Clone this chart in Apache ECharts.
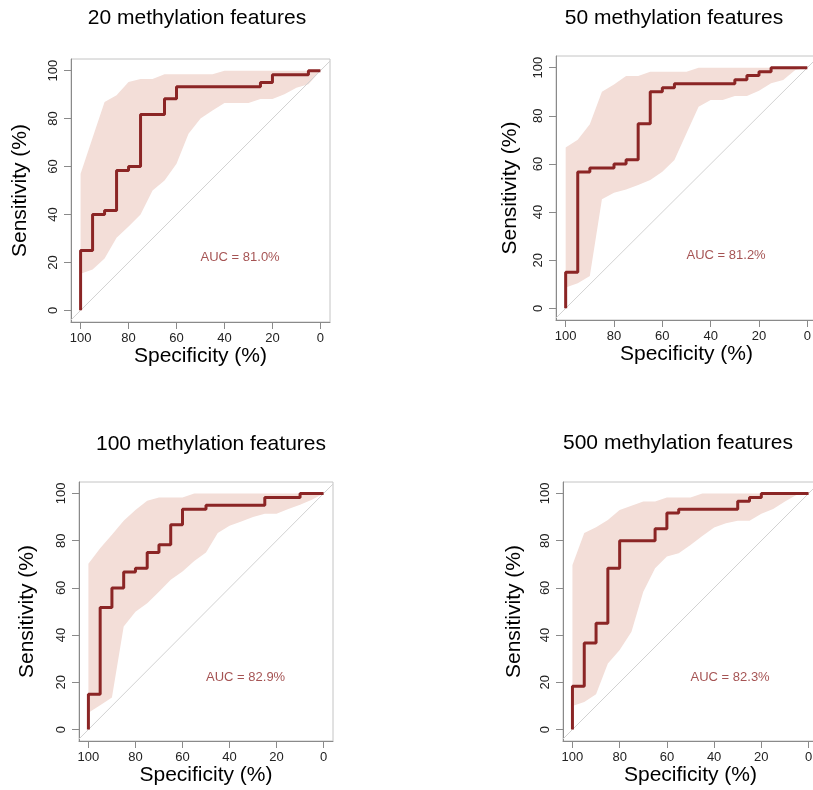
<!DOCTYPE html>
<html>
<head>
<meta charset="utf-8">
<script src="https://cdn.jsdelivr.net/npm/echarts@6/dist/echarts.min.js"></script>
<style>
html, body { margin: 0; padding: 0; background: #fff; }
#rocChart { width: 813px; height: 790px; }
</style>
</head>
<body>
<div id="rocChart"></div>
<script>
// specificity grid of the sensitivity confidence band
const ciSpec = [100, 95, 90, 85, 80, 75, 70, 65, 60, 55, 50, 45, 40, 35, 30, 25, 20, 15, 10, 5, 0];

// 20 features
const roc20Spec = [100, 100, 95, 90, 85, 80, 75, 65, 60, 25, 20, 5, 0];
const roc20Sens = [0, 25, 40, 41.7, 58.3, 60, 81.7, 88.3, 93.3, 95, 98.3, 100, 100];
const ci20High = [57, 72, 86.9, 89.7, 95.3, 96.5, 96.5, 98.5, 98.5, 98.5, 98.5, 98.5, 100, 100, 100, 100, 100, 100, 100, 100, 100];
const ci20Low = [15.3, 17, 21.6, 30.3, 35, 40, 50, 54.2, 61.2, 73.7, 80, 83.4, 86.5, 86.5, 86.5, 88.2, 88.2, 90.1, 92.9, 94.3, 100];

// 50 features
const roc50Spec = [100, 100, 95, 90, 80, 75, 70, 65, 60, 55, 30, 25, 20, 15, 0];
const roc50Sens = [0, 15, 56.7, 58.3, 60, 61.7, 76.7, 90, 91.7, 93.3, 95, 96.7, 98.3, 100, 100];
const ci50High = [66.8, 70, 76.5, 90, 93, 96.5, 96.5, 98.3, 98.3, 98.3, 98.3, 100, 100, 100, 100, 100, 100, 100, 100, 100, 100];
const ci50Low = [8.7, 10.4, 13.4, 45.3, 48, 49.4, 51.2, 53.3, 56.8, 61.6, 72.7, 83.8, 86.6, 86.6, 88.2, 88.2, 90.4, 93.5, 94.9, 99, 100];

// 100 features
const roc100Spec = [100, 100, 95, 90, 85, 80, 75, 70, 65, 60, 50, 25, 10, 0];
const roc100Sens = [0, 15, 51.7, 60, 66.7, 68.3, 75, 78.3, 86.7, 93.3, 95, 98.3, 100, 100];
const ci100High = [70.2, 76.8, 82.5, 88.4, 93, 96.9, 98.3, 98.3, 98.3, 100, 100, 100, 100, 100, 100, 100, 100, 100, 100, 100, 100];
const ci100Low = [7.1, 10.3, 13.6, 43.6, 49.9, 53.5, 58.4, 63.4, 66.9, 71.4, 75, 83.2, 86.3, 88.1, 90, 91.4, 91.4, 93.4, 95.2, 97.3, 100];

// 500 features
const roc500Spec = [100, 100, 95, 90, 85, 80, 65, 60, 55, 30, 25, 20, 0];
const roc500Sens = [0, 18.3, 36.7, 45, 68.3, 80, 85, 91.7, 93.3, 96.7, 98.3, 100, 100];
const ci500High = [69.7, 83.2, 85.7, 88.8, 93, 94.8, 96.6, 96.6, 98.3, 98.3, 98.3, 100, 100, 100, 100, 100, 100, 100, 100, 100, 100];
const ci500Low = [10, 11.7, 15, 28, 33.7, 41.4, 58.4, 68.3, 73.3, 74.7, 78.2, 82, 85.6, 87.4, 88.4, 88.4, 91.4, 93.4, 96.6, 99.4, 100];

const panelTitles = ['20 methylation features', '50 methylation features', '100 methylation features', '500 methylation features'];
const aucTexts = ['AUC = 81.0%', 'AUC = 81.2%', 'AUC = 82.9%', 'AUC = 82.3%'];
const tickValues = [0, 20, 40, 60, 80, 100];
// chance diagonal, drawn across the whole box
const chanceSpec = [104, -4];
const chanceSens = [-4, 104];

const panels = [
  { spec: roc20Spec, sens: roc20Sens, low: ci20Low, high: ci20High },
  { spec: roc50Spec, sens: roc50Sens, low: ci50Low, high: ci50High },
  { spec: roc100Spec, sens: roc100Sens, low: ci100Low, high: ci100High },
  { spec: roc500Spec, sens: roc500Sens, low: ci500Low, high: ci500High }
];

// plot boxes (pixels) and label placement
const layout = [
  { left: 71, top: 59, width: 259, height: 263, yGap: 40, xGap: 24, tx: 197, ty: 18 },
  { left: 556, top: 56, width: 261, height: 264, yGap: 35, xGap: 21, tx: 674, ty: 18 },
  { left: 79, top: 482, width: 254, height: 259, yGap: 41, xGap: 24, tx: 211, ty: 444 },
  { left: 563, top: 482, width: 255, height: 259, yGap: 38, xGap: 24, tx: 678, ty: 443 }
];

const FONT = "'Liberation Sans', Arial, Helvetica, sans-serif";
const LINE_RED = '#8B2525';
const BAND = '#F3DED8';

const chart = echarts.init(document.getElementById('rocChart'));

const grid = [], xAxis = [], yAxis = [], series = [], graphic = [];

panels.forEach(function (p, i) {
  const box = layout[i];
  grid.push({
    left: box.left, top: box.top, width: box.width, height: box.height,
    outerBoundsMode: 'none', containLabel: false,
    show: true, borderColor: '#C4C4C4', borderWidth: 1, backgroundColor: 'transparent'
  });

  const axisCommon = {
    type: 'value',
    gridIndex: i,
    nameLocation: 'middle',
    nameTextStyle: { fontSize: 21, color: '#000', fontFamily: FONT },
    axisLine: { show: true, onZero: false, lineStyle: { color: '#8A8A8A', width: 1 } },
    axisTick: { show: true, length: 7, customValues: tickValues, lineStyle: { color: '#8A8A8A' } },
    splitLine: { show: false }
  };

  xAxis.push(Object.assign({}, axisCommon, {
    name: 'Specificity (%)',
    position: 'bottom',
    nameGap: box.xGap,
    min: -4, max: 104, inverse: true,
    axisLabel: { customValues: tickValues, margin: 10, fontSize: 13, color: '#222', fontFamily: FONT }
  }));
  yAxis.push(Object.assign({}, axisCommon, {
    name: 'Sensitivity (%)',
    position: 'left',
    nameGap: box.yGap,
    min: -4.85, max: 104.85,
    axisLabel: { customValues: tickValues, rotate: 90, margin: 11, fontSize: 13, color: '#222', fontFamily: FONT }
  }));

  // confidence band
  series.push({
    type: 'custom',
    xAxisIndex: i, yAxisIndex: i,
    silent: true,
    data: [[50, 50]],
    renderItem: function (params, api) {
      const pts = [];
      for (let k = 0; k < ciSpec.length; k++) pts.push(api.coord([ciSpec[k], p.high[k]]));
      for (let k = ciSpec.length - 1; k >= 0; k--) pts.push(api.coord([ciSpec[k], p.low[k]]));
      return { type: 'polygon', shape: { points: pts }, style: { fill: BAND } };
    }
  });

  // chance line
  series.push({
    type: 'line',
    xAxisIndex: i, yAxisIndex: i,
    silent: true, symbol: 'none',
    lineStyle: { color: '#D2D2D2', width: 1 },
    data: chanceSpec.map(function (s, k) { return [s, chanceSens[k]]; })
  });

  // ROC curve
  series.push({
    type: 'line',
    xAxisIndex: i, yAxisIndex: i,
    step: 'end', symbol: 'none',
    lineStyle: { color: LINE_RED, width: 3 },
    data: p.spec.map(function (s, k) { return [s, p.sens[k]]; })
  });

  // AUC text
  series.push({
    type: 'scatter',
    xAxisIndex: i, yAxisIndex: i,
    symbolSize: 0.1,
    itemStyle: { color: 'transparent' },
    label: {
      show: true, position: 'right', distance: 0,
      formatter: aucTexts[i], fontSize: 13, color: '#8E2828', fontFamily: FONT
    },
    data: [[50, 22]]
  });

  graphic.push({
    type: 'text', x: box.tx, y: box.ty,
    style: { text: panelTitles[i], align: 'center', verticalAlign: 'middle', fontSize: 21, fill: '#000', fontFamily: FONT }
  });
});

chart.setOption({
  backgroundColor: '#fff',
  animation: false,
  grid: grid,
  xAxis: xAxis,
  yAxis: yAxis,
  series: series,
  graphic: graphic
});
</script>
</body>
</html>
